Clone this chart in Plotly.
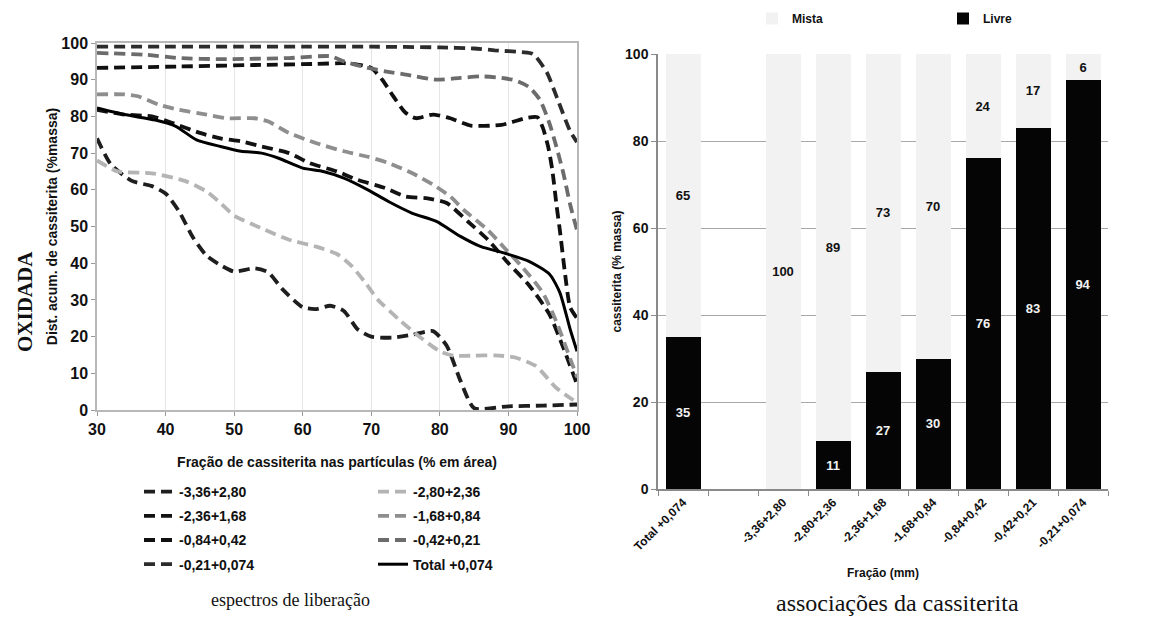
import plotly.graph_objects as go

# ---------------- left chart data (liberation spectra) ----------------
g_336 = [30, 32, 35, 38, 40, 42, 44, 46, 48, 50, 53, 55, 57, 60, 62, 64, 66, 68, 70, 73, 76, 79, 81, 83, 85, 90, 95, 100]
v_336 = [74, 67, 62.5, 61, 59, 54, 47, 42, 39.5, 37.7, 38.6, 37.5, 33, 28, 27.5, 28.4, 27, 22, 20, 19.7, 20.5, 21.5, 17.5, 8, 0.5, 1, 1.2, 1.5]

g_280 = [30, 33, 38, 43, 46, 48, 50, 54, 58, 62, 65, 67, 69, 71, 74, 77, 80, 82, 85, 88, 91, 94, 97, 100]
v_280 = [68, 65, 64.5, 62.3, 59.5, 56.4, 53, 49.5, 46.4, 44.5, 42.5, 39.5, 35, 30, 24.7, 20, 16, 14.8, 14.8, 14.9, 14.3, 12, 6, 2]

g_236 = [30, 34, 38, 41, 45, 48, 51, 54, 58, 61, 65, 68, 72, 75, 78, 81, 84, 87, 90, 93, 96, 98, 100]
v_236 = [81.8, 80.5, 80, 78.2, 75.5, 74, 73.2, 71.8, 70, 67.3, 65, 62.7, 60.5, 58.2, 57.7, 56.4, 51.5, 46.4, 40, 34, 26, 17, 7]

g_168 = [30, 34, 36, 39, 42, 46, 49, 53, 55, 58, 62, 66, 69.5, 72.5, 76, 79, 81.5, 83.5, 87, 89.5, 92, 95, 97, 99, 100]
v_168 = [86, 86, 85.5, 83.2, 81.8, 80.5, 79.5, 79.5, 78.6, 75.5, 72.7, 70.5, 69, 67.3, 64.5, 61.4, 58.2, 54.5, 49, 44, 39, 32, 24, 14, 9]

g_084 = [30, 42, 53, 62, 66, 68.5, 70, 71.6, 73.2, 75, 76.5, 79, 81.5, 84.5, 89, 92.7, 94.2, 95, 95.8, 96.4, 97, 97.5, 98.2, 99, 100]
v_084 = [93.2, 93.6, 94, 94.3, 94.5, 94, 93.2, 90, 85.5, 81, 79.5, 80.5, 79.5, 77.5, 77.7, 79.6, 79.8, 77, 71.7, 65.4, 56, 49, 38, 28, 25]

g_042 = [30, 37, 42, 48, 58, 64, 66, 69.5, 72, 75, 79.5, 83, 86, 89, 91, 93, 94.6, 96, 97, 98, 99, 100]
v_042 = [97.3, 96.8, 95.9, 95.6, 95.9, 96.4, 95, 93.2, 92.3, 91.4, 90, 90.5, 90.9, 90.5, 89.8, 88, 84.5, 78, 71.7, 64.6, 56, 49]

g_021 = [30, 40, 50, 60, 70, 80, 85, 88, 92, 93.6, 95.6, 97.1, 99, 100]
v_021 = [99, 99, 99, 99, 99, 98.8, 98.5, 98, 97.5, 97, 92, 85, 76, 73]

g_tot = [30, 34, 38.5, 41.5, 44.5, 48, 51, 54, 56.5, 60, 63, 66, 69.5, 72.5, 76, 79.5, 83, 86, 89.5, 93, 96, 97.5, 99, 100]
v_tot = [82.3, 80.5, 79, 77.3, 73.6, 71.8, 70.5, 70, 68.6, 65.9, 65, 63.2, 60, 56.8, 53.6, 51.4, 47.3, 44.5, 42.7, 40.5, 37, 32, 22, 16]

# ---------------- right chart data (associations) ----------------
fractions = ["Total +0,074", " ", "-3,36+2,80", "-2,80+2,36", "-2,36+1,68",
             "-1,68+0,84", "-0,84+0,42", "-0,42+0,21", "-0,21+0,074"]
livre = [35, None, 0, 11, 27, 30, 76, 83, 94]
mista = [65, None, 100, 89, 73, 70, 24, 17, 6]

W, H = 1162, 621


def px(x):
    return x / W


def py(y):
    return 1 - y / H


BOLD = dict(family="Liberation Sans", weight="bold", color="#111111")

fig = go.Figure()

series = [
    ("-3,36+2,80", g_336, v_336, "#1e1e1e", "11px,6px", "legend"),
    ("-2,80+2,36", g_280, v_280, "#b4b4b4", "11px,6px", "legend2"),
    ("-2,36+1,68", g_236, v_236, "#121212", "11px,6px", "legend"),
    ("-1,68+0,84", g_168, v_168, "#8e8e8e", "11px,6px", "legend2"),
    ("-0,84+0,42", g_084, v_084, "#101010", "11px,6px", "legend"),
    ("-0,42+0,21", g_042, v_042, "#6c6c6c", "11px,6px", "legend2"),
    ("-0,21+0,074", g_021, v_021, "#2c2c2c", "11px,6px", "legend"),
    ("Total +0,074", g_tot, v_tot, "#000000", "solid", "legend2"),
]
for name, gx, vy, col, dash, leg in series:
    fig.add_trace(go.Scatter(
        x=gx, y=vy, name=name, mode="lines",
        line=dict(color=col, width=3.8 if dash != "solid" else 3.0, dash=dash,
                  shape="spline", smoothing=0.6),
        legend=leg, legendgroup=name, xaxis="x", yaxis="y",
    ))

livre_txt = [str(v) if v else "" for v in livre]
mista_txt = [str(v) if v else "" for v in mista]

fig.add_trace(go.Bar(
    x=fractions, y=livre, name="Livre", marker=dict(color="#050505", line=dict(width=0)),
    text=livre_txt, textposition="inside", insidetextanchor="middle", textangle=0,
    textfont=dict(family="Liberation Sans", weight="bold", size=13, color="#f2f2f2"),
    xaxis="x2", yaxis="y2", legend="legend3", legendrank=2, constraintext="none",
))
fig.add_trace(go.Bar(
    x=fractions, y=mista, name="Mista", marker=dict(color="#f2f2f2", line=dict(width=0)),
    text=mista_txt, textposition="inside", insidetextanchor="middle", textangle=0,
    textfont=dict(family="Liberation Sans", weight="bold", size=13, color="#111111"),
    xaxis="x2", yaxis="y2", legend="legend3", legendrank=1, constraintext="none",
))

leg_common = dict(bgcolor="rgba(0,0,0,0)", font=dict(size=14, **BOLD),
                  tracegroupgap=3, itemclick=False, itemdoubleclick=False,
                  xanchor="left", yanchor="top")

fig.update_layout(
    width=W, height=H,
    margin=dict(l=0, r=0, t=0, b=0, autoexpand=False),
    paper_bgcolor="white", plot_bgcolor="white",
    barmode="stack", bargap=0.3,
    xaxis=dict(domain=[px(97), px(577)], range=[30, 100], dtick=10,
               showgrid=True, gridcolor="#e6e6e6", zeroline=False,
               showline=True, linecolor="#b8b8b8", linewidth=1.5, mirror=True,
               ticks="outside", ticklen=4, tickcolor="#999999",
               tickfont=dict(size=16, **BOLD), automargin=False,
               title=dict(text="Fração de cassiterita nas partículas (% em área)",
                          font=dict(size=14, **BOLD), standoff=20)),
    yaxis=dict(domain=[py(410), py(43)], range=[0, 100], dtick=10,
               showgrid=False, zeroline=False,
               showline=True, linecolor="#b8b8b8", linewidth=1.5, mirror=True,
               ticks="outside", ticklen=4, tickcolor="#999999",
               tickfont=dict(size=16, **BOLD), automargin=False,
               title=dict(text="Dist. acum. de cassiterita (%massa)",
                          font=dict(size=14, **BOLD), standoff=0)),
    xaxis2=dict(domain=[px(658), px(1108)], anchor="y2", type="category",
                showgrid=False, zeroline=False, automargin=False,
                showline=True, linecolor="#8a8a8a", linewidth=1.5,
                ticks="outside", ticklen=5, tickcolor="#8a8a8a", tickson="boundaries",
                tickangle=-45, tickfont=dict(size=12, **BOLD),
                title=dict(text="Fração (mm)", font=dict(size=12, **BOLD), standoff=16)),
    yaxis2=dict(domain=[py(489), py(54)], anchor="x2", range=[0, 100], dtick=20,
                showgrid=True, gridcolor="#a8a8a8", gridwidth=1, zeroline=False,
                showline=True, linecolor="#8a8a8a", linewidth=1.5, automargin=False,
                ticks="outside", ticklen=5, tickcolor="#8a8a8a",
                tickfont=dict(size=14, **BOLD),
                title=dict(text="cassiterita (% massa)", font=dict(size=12, **BOLD), standoff=1)),
    legend=dict(x=px(139), y=py(476), **leg_common),
    legend2=dict(x=px(373), y=py(476), **leg_common),
    legend3=dict(x=px(752), y=py(4), orientation="h", entrywidth=146, traceorder="normal",
                 bgcolor="rgba(0,0,0,0)", font=dict(size=12, **BOLD),
                 xanchor="left", yanchor="top"),
    annotations=[
        dict(text="<b>OXIDADA</b>", x=px(25), y=py(302), xref="paper", yref="paper",
             xanchor="center", yanchor="middle", textangle=-90, showarrow=False,
             font=dict(family="Liberation Serif", size=21, color="#111111")),
        dict(text="espectros de liberação", x=px(290), y=py(600), xref="paper", yref="paper",
             xanchor="center", yanchor="middle", showarrow=False,
             font=dict(family="Liberation Serif", size=18, color="#111111")),
        dict(text="associações da cassiterita", x=px(897), y=py(603), xref="paper", yref="paper",
             xanchor="center", yanchor="middle", showarrow=False,
             font=dict(family="Liberation Serif", size=24, color="#111111")),
    ],
)

fig.write_html("out.html", config={"displayModeBar": False},
               post_script="document.body.style.margin='0px';")
